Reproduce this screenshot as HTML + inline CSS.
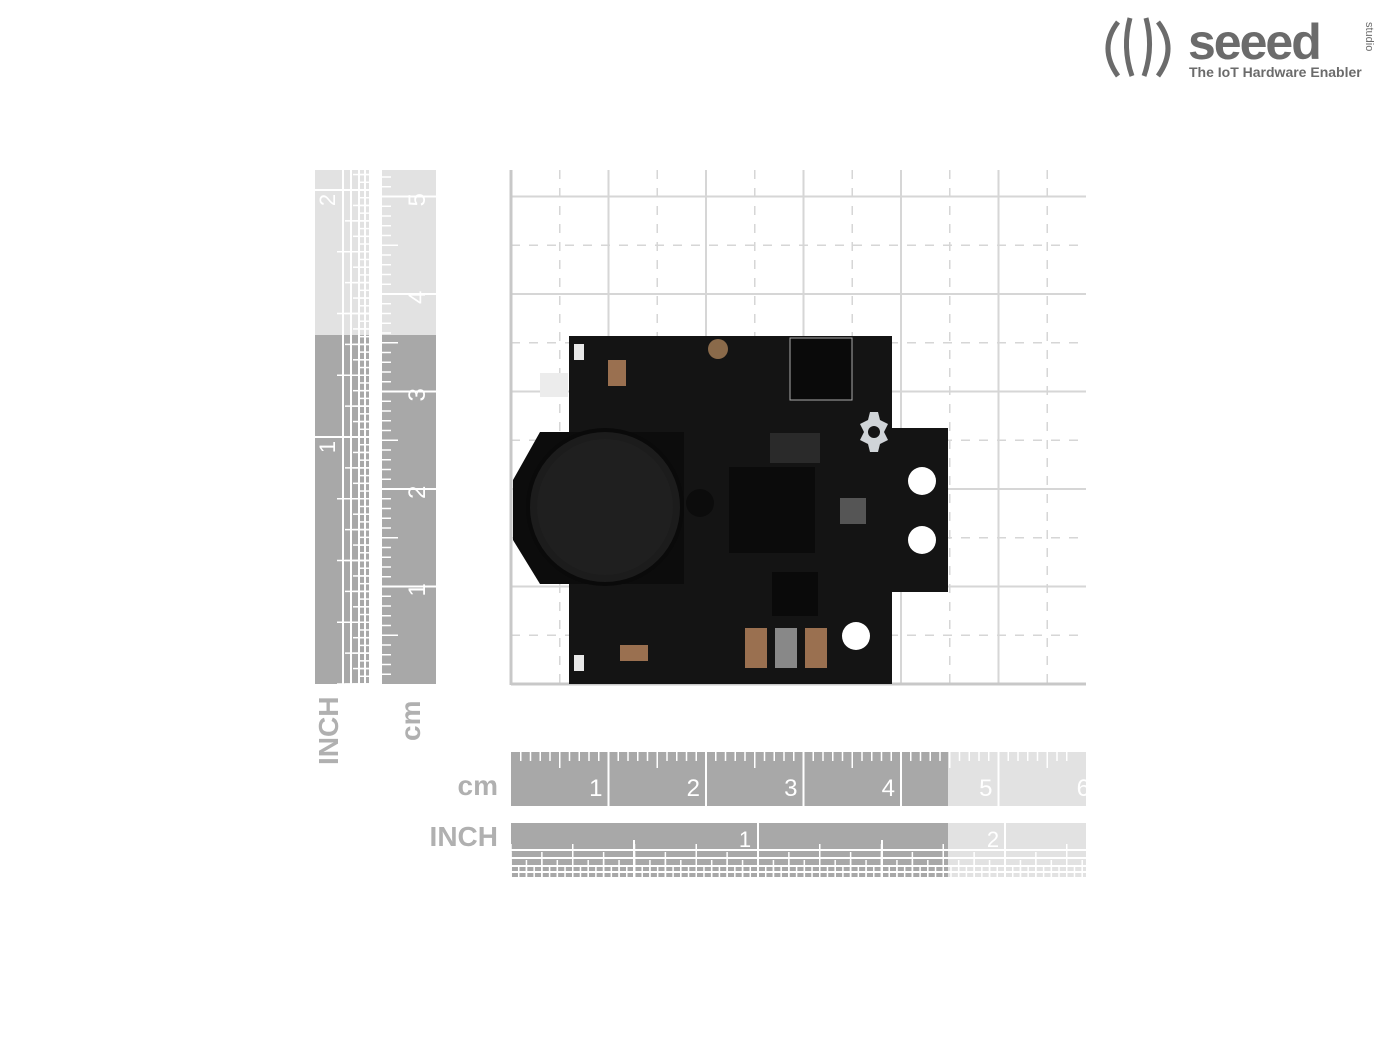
<!DOCTYPE html>
<html><head><meta charset="utf-8"><style>
html,body{margin:0;padding:0;background:#fff;width:1400px;height:1050px;overflow:hidden}
svg{position:absolute;left:0;top:0}
text{font-family:"Liberation Sans",sans-serif}
</style></head><body>
<svg id="s" width="1400" height="1050" viewBox="0 0 1400 1050">
<!-- logo -->
<g fill="none" stroke="#6b6b6b" stroke-width="5">
<path d="M1118 22 Q1098 48 1118 76"/><path d="M1158 22 Q1178 48 1158 76"/>
<path d="M1130 18 Q1122 48 1132 76"/><path d="M1146 18 Q1154 48 1144 76"/>
</g>
<text x="1188" y="59" font-size="50" font-weight="bold" fill="#6b6b6b" letter-spacing="-2">seeed</text>
<text x="1366" y="22" font-size="11" fill="#6b6b6b" transform="rotate(90 1366 22)">studio</text>
<text x="1189" y="77" font-size="14" font-weight="bold" fill="#6b6b6b">The IoT Hardware Enabler</text>
<g id="grid"></g>
<g id="rul"></g>
<!-- PCB -->
<g>
<path d="M569 336 H892 V428 H948 V592 H892 V684 H569 Z" fill="#141414"/>
<polygon points="513,480 540,432 684,432 684,584 540,584 513,540" fill="#0c0c0c"/>
<circle cx="605" cy="507" r="77" fill="#1c1c1c" stroke="#0a0a0a" stroke-width="4"/>
<circle cx="605" cy="507" r="68" fill="#1f1f1f"/>
<circle cx="700" cy="503" r="14" fill="#0c0c0c"/>
<rect x="729" y="467" width="86" height="86" fill="#0b0b0b"/>
<rect x="770" y="433" width="50" height="30" fill="#2a2a2a"/>
<rect x="790" y="338" width="62" height="62" fill="#0a0a0a" stroke="#aaa" stroke-width="1"/>
<rect x="772" y="572" width="46" height="44" fill="#0a0a0a"/>
<circle cx="922" cy="481" r="14" fill="#fff"/>
<circle cx="922" cy="540" r="14" fill="#fff"/>
<circle cx="856" cy="636" r="14" fill="#fff"/>
<rect x="540" y="373" width="28" height="24" fill="#ececec"/>
<rect x="574" y="344" width="10" height="16" fill="#e8e8e8"/>
<rect x="574" y="655" width="10" height="16" fill="#e8e8e8"/>
<circle cx="718" cy="349" r="10" fill="#8a6a4a"/>
<path d="M870 412 l8 0 2 8 8 4 -4 8 4 8 -8 4 -2 8 -8 0 -2 -8 -8 -4 4 -8 -4 -8 8 -4z" fill="#d0d4d8"/>
<circle cx="874" cy="432" r="6" fill="#141414"/>
<rect x="745" y="628" width="22" height="40" fill="#9a7050"/><rect x="775" y="628" width="22" height="40" fill="#888"/><rect x="805" y="628" width="22" height="40" fill="#9a7050"/>
<rect x="620" y="645" width="28" height="16" fill="#9a7050"/>
<rect x="608" y="360" width="18" height="26" fill="#9a7050"/>
<rect x="840" y="498" width="26" height="26" fill="#555"/>
</g>
</svg>
<script>
const NS="http://www.w3.org/2000/svg";
function el(p,t,a){const e=document.createElementNS(NS,t);for(const k in a)e.setAttribute(k,a[k]);p.appendChild(e);return e}
const g=document.getElementById('grid'),r=document.getElementById('rul');
const cm=97.5;
// grid
for(let i=0;i<12;i++){const x=511+i*cm/2;if(x>1088)break;
 el(g,'line',{x1:x,y1:170,x2:x,y2:684,stroke:'#d6d6d6','stroke-width':i%2?1.5:2,'stroke-dasharray':i%2?'9 9':''});}
for(let i=0;i<11;i++){const y=684-i*cm/2;if(y<168)break;
 el(g,'line',{x1:511,y1:y,x2:1086,y2:y,stroke:'#d6d6d6','stroke-width':i%2?1.5:2,'stroke-dasharray':i%2?'9 9':''});}
el(g,'line',{x1:511,y1:170,x2:511,y2:685,stroke:'#c8c8c8','stroke-width':3});
el(g,'line',{x1:511,y1:684,x2:1086,y2:684,stroke:'#c8c8c8','stroke-width':3});
const D='#a8a8a8',L='#e2e2e2';
// bottom cm ruler
el(r,'rect',{x:511,y:752,width:437,height:54,fill:D});el(r,'rect',{x:948,y:752,width:138,height:54,fill:L});
for(let k=1;k<=57;k++){const x=511+k*cm/10;if(x>1086)break;const h=k%10==0?54:(k%5==0?16:9);el(r,'line',{x1:x,y1:752,x2:x,y2:752+h,stroke:'#fff','stroke-width':k%10==0?2:1.5});}
for(let k=1;k<=6;k++){const t=el(r,'text',{x:511+k*cm-6,y:796,'font-size':24,fill:'#fff','text-anchor':'end'});t.textContent=k;}
// bottom inch ruler
const IN=247;
el(r,'rect',{x:511,y:823,width:437,height:54,fill:D});el(r,'rect',{x:948,y:823,width:138,height:54,fill:L});
for(const x of[758,1005])el(r,'line',{x1:x,y1:823,x2:x,y2:877,stroke:'#fff','stroke-width':2});
el(r,'line',{x1:634,y1:840,x2:634,y2:877,stroke:'#fff','stroke-width':2});el(r,'line',{x1:882,y1:840,x2:882,y2:877,stroke:'#fff','stroke-width':2});
[[850,1],[858,1],[866,1],[872,1]].forEach((v,i)=>{el(r,'line',{x1:511,y1:v[0],x2:1086,y2:v[0],stroke:'#fff','stroke-width':2});
 const step=IN/Math.pow(2,i+2);for(let x=511;x<1090;x+=step)el(r,'line',{x1:x,y1:v[0]-6,x2:x,y2:877,stroke:'#fff','stroke-width':1.5});});
[[745,1],[993,2]].forEach(v=>{const t=el(r,'text',{x:v[0],y:847,'font-size':22,fill:'#fff','text-anchor':'middle'});t.textContent=v[1];});
// left cm ruler vertical
el(r,'rect',{x:382,y:335,width:54,height:349,fill:D});el(r,'rect',{x:382,y:170,width:54,height:165,fill:L});
for(let k=1;k<=53;k++){const y=684-k*cm/10;if(y<170)break;const w=k%10==0?54:(k%5==0?16:9);el(r,'line',{x1:382,y1:y,x2:382+w,y2:y,stroke:'#fff','stroke-width':k%10==0?2:1.5});}
for(let k=1;k<=5;k++){const y=684-k*cm+10;const t=el(r,'text',{x:425,y:y,'font-size':24,fill:'#fff','text-anchor':'start',transform:`rotate(-90 425 ${y})`});t.textContent=k;}
// left inch ruler
el(r,'rect',{x:315,y:335,width:54,height:349,fill:D});el(r,'rect',{x:315,y:170,width:54,height:165,fill:L});
[343,351,359,365].forEach((x,i)=>{el(r,'line',{x1:x,y1:170,x2:x,y2:684,stroke:'#fff','stroke-width':2});
 const step=IN/Math.pow(2,i+2);for(let y=684;y>168;y-=step)el(r,'line',{x1:x-6,y1:y,x2:369,y2:y,stroke:'#fff','stroke-width':1.5});});
[437,190].forEach(y=>el(r,'line',{x1:315,y1:y,x2:369,y2:y,stroke:'#fff','stroke-width':2}));
[[447,1],[200,2]].forEach(v=>{const t=el(r,'text',{x:335,y:v[0],'font-size':22,fill:'#fff','text-anchor':'middle',transform:`rotate(-90 335 ${v[0]})`});t.textContent=v[1];});
// labels
[[338,765,'INCH',-90],[420,741,'cm',-90]].forEach(v=>{const t=el(r,'text',{x:v[0],y:v[1],'font-size':28,'font-weight':'bold',fill:'#b0b0b0',transform:`rotate(${v[3]} ${v[0]} ${v[1]})`});t.textContent=v[2];});
[[498,795,'cm'],[498,846,'INCH']].forEach(v=>{const t=el(r,'text',{x:v[0],y:v[1],'font-size':28,'font-weight':'bold',fill:'#b0b0b0','text-anchor':'end'});t.textContent=v[2];});
</script>
</body></html>
